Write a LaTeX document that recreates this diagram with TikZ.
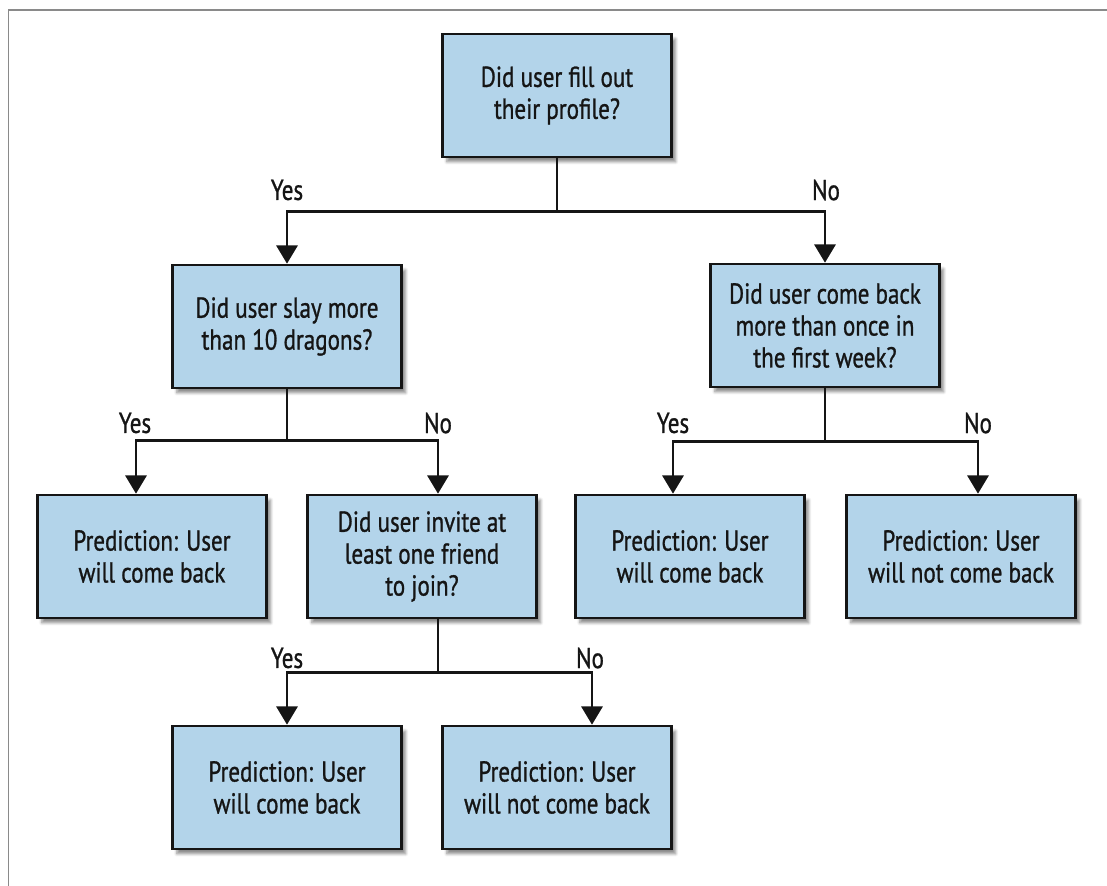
\documentclass[tikz,border=0pt]{standalone}
\usepackage{fontspec}
\setmainfont{PT Sans}[FakeStretch=0.8, FakeBold=0.9]
\usepackage{tikz}
\usetikzlibrary{arrows.meta, shadows.blur, calc}
\definecolor{BoxBlue}{HTML}{B3D4EA}
\definecolor{FrameGray}{HTML}{8A8A8A}
\definecolor{InkBlack}{HTML}{151515}

\begin{document}
\begin{tikzpicture}[x=0.025cm, y=-0.025cm,
    box/.style={draw=InkBlack, fill=BoxBlue, line width=2pt, minimum width=5.72cm,
        minimum height=3.07cm, align=center, text=InkBlack,
        font=\fontsize{20.5}{22.7}\selectfont,
        blur shadow={shadow xshift=3pt, shadow yshift=-3.5pt, shadow blur steps=6, shadow opacity=45}},
    arr/.style={draw=InkBlack, line width=2pt, -{Triangle[width=15pt, length=13pt]}},
    lbl/.style={text=InkBlack, font=\fontsize{20.5}{22}\selectfont}]
    \useasboundingbox (0,0) rectangle (1107,886);

    % Frame
    \draw[FrameGray, line width=1.4pt] (8.5,886) -- (8.5,10) -- (1107,10);

    % Questions
    \node[box] (profile) at (557,95.5) {Did user fill out\\their profile?};
    \node[box] (dragons) at (287,326.5) {Did user slay more\\than 10 dragons?};
    \node[box] (week) at (825,325.5) {Did user come back\\more than once in\\the first week?};
    \node[box] (invite) at (422,556.5) {Did user invite at\\least one friend\\to join?};

    % Predictions
    \node[box] (backA) at (152,556.5) {Prediction: User\\will come back};
    \node[box] (backC) at (690,556.5) {Prediction: User\\will come back};
    \node[box] (notD) at (961,556.5) {Prediction: User\\will not come back};
    \node[box] (backE) at (287,787.5) {Prediction: User\\will come back};
    \node[box] (notF) at (557,787.5) {Prediction: User\\will not come back};

    % Branches
    \draw[arr] (profile.south) -- ++(0,53) -| (dragons.north);
    \draw[arr] (profile.south) -- ++(0,53) -| (week.north);
    \draw[arr] (dragons.south) -- ++(0,51) -| ($(backA.north)+(-16,0)$);
    \draw[arr] (dragons.south) -- ++(0,51) -| ($(invite.north)+(16,0)$);
    \draw[arr] (week.south) -- ++(0,53) -| ($(backC.north)+(-17,0)$);
    \draw[arr] (week.south) -- ++(0,53) -| ($(notD.north)+(17,0)$);
    \draw[arr] ($(invite.south)+(16,0)$) -- ++(0,53) -| (backE.north);
    \draw[arr] ($(invite.south)+(16,0)$) -- ++(0,53) -| ($(notF.north)+(35,0)$);

    % Answers
    \node[lbl] (y1) at (287,190) {Yes};
    \node[lbl] (n1) at (826,190) {No};
    \node[lbl] (y2) at (135,423) {Yes};
    \node[lbl] (n2) at (438,423) {No};
    \node[lbl] (y3) at (673,423) {Yes};
    \node[lbl] (n3) at (978,423) {No};
    \node[lbl] (y4) at (287,658) {Yes};
    \node[lbl] (n4) at (590,658) {No};
\end{tikzpicture}
\end{document}
